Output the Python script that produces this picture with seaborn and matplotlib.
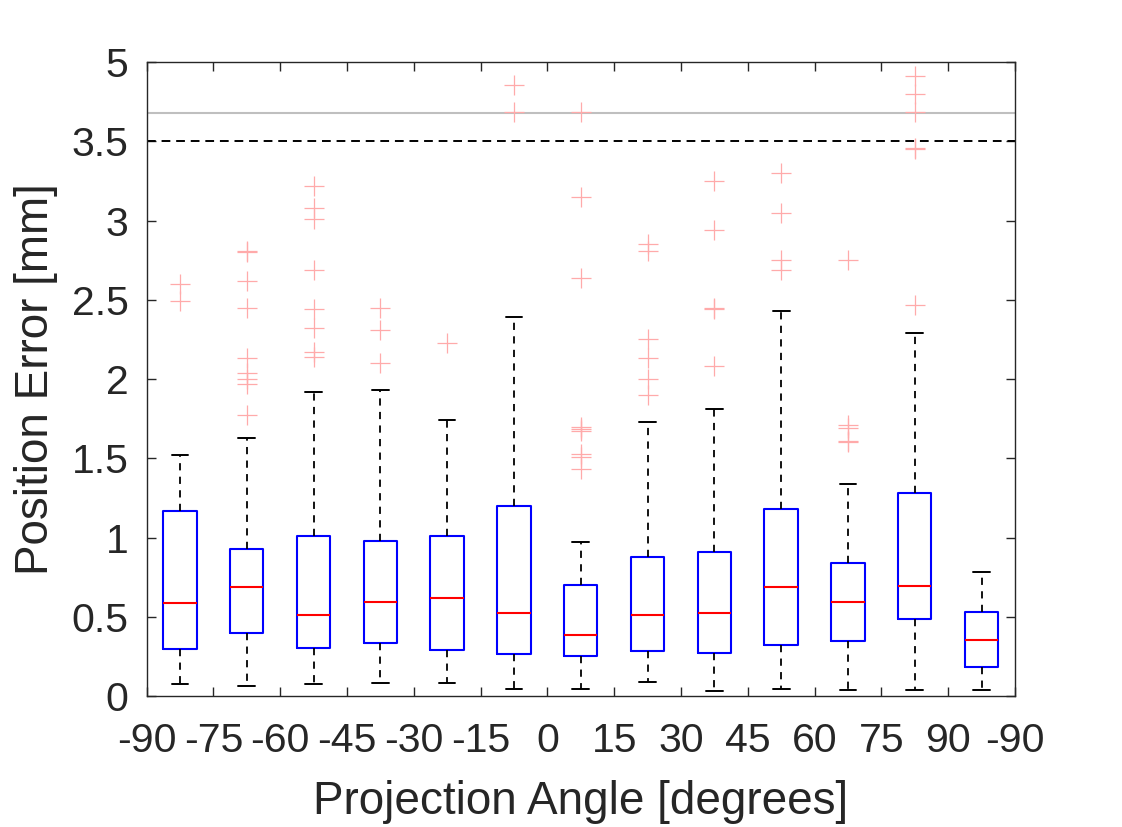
import numpy as np
import pandas as pd
import matplotlib
matplotlib.use("Agg")
import matplotlib.pyplot as plt
import seaborn as sns

# angoli (etichette dei tick, sui bordi tra i box)
tick_labels = ['-90', '-75', '-60', '-45', '-30', '-15', '0', '15', '30', '45', '60', '75', '90', '-90']

# statistiche dei box [mm]
whishi = [1.52, 1.63, 1.92, 1.93, 1.74, 2.39, 0.97, 1.73, 1.81, 2.43, 1.34, 2.29, 0.78]
q3 = [1.17, 0.93, 1.01, 0.98, 1.01, 1.20, 0.70, 0.88, 0.91, 1.18, 0.84, 1.28, 0.53]
medians = [0.587, 0.685, 0.511, 0.594, 0.619, 0.524, 0.387, 0.514, 0.522, 0.687, 0.596, 0.697, 0.351]
q1 = [0.294, 0.398, 0.301, 0.334, 0.288, 0.263, 0.250, 0.284, 0.271, 0.320, 0.347, 0.484, 0.185]
whislo = [0.073, 0.066, 0.073, 0.083, 0.081, 0.047, 0.043, 0.088, 0.033, 0.043, 0.037, 0.037, 0.037]

# outlier per box
fliers = [
    [2.60, 2.49],
    [2.81, 2.80, 2.62, 2.45, 2.13, 2.04, 2.00, 1.97, 1.77],
    [3.22, 3.08, 3.01, 2.69, 2.44, 2.32, 2.17, 2.14],
    [2.45, 2.31, 2.10],
    [2.23],
    [4.41, 3.70],
    [3.70, 3.15, 2.64, 1.70, 1.685, 1.67, 1.53, 1.51, 1.43],
    [2.85, 2.81, 2.25, 2.13, 2.00, 1.90],
    [3.25, 2.94, 2.45, 2.44, 2.08],
    [3.30, 3.05, 2.75, 2.69],
    [2.75, 1.71, 1.69, 1.61, 1.60],
    [4.64, 4.17, 3.70, 3.46, 3.45, 2.47],
    [],
]

# asse y spezzato: sopra B si comprime fino a 5
B = 3.68
TOP_LIN = 4.0


def forward(y):
    y = np.asarray(y, dtype=float)
    return np.where(y <= B, y, B + (y - B) * (TOP_LIN - B) / (5 - B))


def inverse(y):
    y = np.asarray(y, dtype=float)
    return np.where(y <= B, y, B + (y - B) * (5 - B) / (TOP_LIN - B))


sns.set_style("ticks")
plt.rcParams['font.family'] = ['Liberation Sans', 'DejaVu Sans']

fig = plt.figure(figsize=(11.22, 8.27), dpi=100)
ax = fig.add_axes([0.1306, 0.1584, 0.9046 - 0.1306, 0.925 - 0.1584])
ax.set_yscale('function', functions=(forward, inverse))

positions = np.arange(len(medians)) + 0.5
stats = []
for i in range(len(medians)):
    stats.append(dict(med=medians[i], q1=q1[i], q3=q3[i],
                      whislo=whislo[i], whishi=whishi[i], fliers=[]))

ax.bxp(stats, positions=positions, widths=0.5, showfliers=False,
       boxprops=dict(color='#0000FF', linewidth=1.5),
       medianprops=dict(color='#FF0000', linewidth=1.5),
       whiskerprops=dict(color='black', linewidth=1.3, linestyle=(0, (4, 3.5))),
       capprops=dict(color='black', linewidth=1.4),
       capwidths=0.25)

# outlier con seaborn
rows = []
for i, f in enumerate(fliers):
    for v in f:
        rows.append((positions[i], v))
df = pd.DataFrame(rows, columns=['pos', 'err'])
sns.scatterplot(data=df, x='pos', y='err', marker='+', s=220, color='#FFAAAA',
                linewidth=0.9, ax=ax, legend=False, zorder=3)

ax.axhline(B, color='#BFBFBF', linewidth=1.5, zorder=1)
ax.axhline(3.5, color='black', linewidth=1.4, linestyle=(0, (4.5, 3)), zorder=1)

ax.set_xlim(0, len(medians))
ax.set_ylim(0, 5)
ax.set_xticks(np.arange(len(tick_labels)))
ax.set_xticklabels(tick_labels)
yt = [0, 0.5, 1, 1.5, 2, 2.5, 3, 3.5, 5]
ax.set_yticks(yt)
ax.set_yticklabels(['0', '0.5', '1', '1.5', '2', '2.5', '3', '3.5', '5'])
ax.minorticks_off()

txt = '#262626'
ax.tick_params(axis='both', direction='in', length=6.5, width=1.0, colors=txt,
               labelsize=29.5, top=True, right=True)
ax.tick_params(axis='x', pad=19)
ax.tick_params(axis='y', pad=13)
for s in ax.spines.values():
    s.set_visible(True)
    s.set_color(txt)
    s.set_linewidth(1.0)

ax.set_xlabel('Projection Angle [degrees]', fontsize=33, color=txt, labelpad=14)
ax.set_ylabel('Position Error [mm]', fontsize=33, color=txt, labelpad=10)

fig.savefig('out.png', dpi=100)
